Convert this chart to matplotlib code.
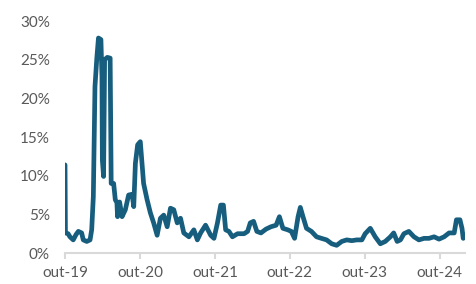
import pandas as pd
import matplotlib
matplotlib.use("Agg")
import matplotlib.pyplot as plt
from matplotlib.ticker import PercentFormatter

# Values (% per date)
dates = [
    "2019-10-01", "2019-10-03", "2019-10-16", "2019-10-25", "2019-11-10", "2019-11-24",
    "2019-12-05", "2019-12-21", "2019-12-29", "2020-01-15", "2020-01-31", "2020-02-08",
    "2020-02-16", "2020-02-24", "2020-03-04", "2020-03-12", "2020-03-24", "2020-03-29",
    "2020-03-31", "2020-04-06", "2020-04-11", "2020-04-24", "2020-05-08", "2020-05-13",
    "2020-05-25", "2020-06-02", "2020-06-10", "2020-06-13", "2020-06-23", "2020-07-05",
    "2020-07-21", "2020-08-06", "2020-08-23", "2020-08-31", "2020-09-08", "2020-09-19",
    "2020-10-02", "2020-10-18", "2020-11-04", "2020-11-20", "2020-12-06", "2020-12-23",
    "2021-01-08", "2021-01-24", "2021-02-10", "2021-02-26", "2021-03-14", "2021-03-31",
    "2021-04-16", "2021-05-02", "2021-05-27", "2021-06-20", "2021-07-07", "2021-07-23",
    "2021-08-16", "2021-09-10", "2021-09-26", "2021-10-13", "2021-10-29", "2021-11-11",
    "2021-11-22", "2021-12-08", "2021-12-25", "2022-01-19", "2022-02-20", "2022-03-09",
    "2022-03-22", "2022-04-07", "2022-04-23", "2022-05-13", "2022-06-07", "2022-07-01",
    "2022-07-26", "2022-08-11", "2022-08-28", "2022-09-21", "2022-10-08", "2022-10-24",
    "2022-11-10", "2022-11-21", "2022-12-04", "2022-12-21", "2023-01-14", "2023-02-08",
    "2023-03-04", "2023-03-29", "2023-04-23", "2023-05-17", "2023-06-11", "2023-07-05",
    "2023-07-30", "2023-08-23", "2023-09-17", "2023-10-03", "2023-10-28", "2023-11-21",
    "2023-12-16", "2024-01-09", "2024-02-03", "2024-02-19", "2024-03-07", "2024-03-23",
    "2024-04-09", "2024-05-03", "2024-05-28", "2024-06-21", "2024-07-16", "2024-08-09",
    "2024-09-03", "2024-09-27", "2024-10-22", "2024-11-15", "2024-12-10", "2024-12-21",
    "2025-01-07", "2025-01-17", "2025-01-23", "2025-01-28",
]
values = [
    11.4, 2.6, 2.5, 2.1, 1.7, 2.4,
    2.8, 2.6, 1.7, 1.5, 1.7, 3.0,
    7.3, 21.5, 25.2, 27.8, 27.6, 22.8,
    12.0, 9.9, 25.0, 25.3, 25.2, 9.0,
    9.0, 6.9, 6.5, 4.7, 6.6, 4.7,
    5.6, 7.5, 7.6, 6.0, 11.6, 14.0,
    14.4, 9.0, 6.9, 5.2, 3.9, 2.3,
    4.5, 4.9, 3.4, 5.8, 5.6, 3.9,
    4.5, 2.6, 2.1, 3.0, 1.7, 2.6,
    3.6, 2.3, 1.9, 3.9, 6.2, 6.2,
    3.0, 2.8, 2.1, 2.5, 2.5, 2.8,
    3.9, 4.1, 2.8, 2.6, 3.1, 3.4,
    3.6, 4.7, 3.2, 3.0, 2.8, 1.9,
    4.7, 5.9, 4.7, 3.2, 2.8, 2.1,
    1.9, 1.7, 1.2, 1.0, 1.5, 1.7,
    1.6, 1.7, 1.7, 2.5, 3.2, 2.1,
    1.2, 1.5, 2.1, 2.6, 1.5, 1.7,
    2.5, 2.8, 2.1, 1.7, 1.9, 1.9,
    2.1, 1.8, 2.1, 2.6, 2.6, 4.3,
    4.3, 3.2, 1.9, 2.3,
]
tick_dates = ["2019-10-01", "2020-10-01", "2021-10-01", "2022-10-01", "2023-10-01", "2024-10-01"]
tick_labels = ["out-19", "out-20", "out-21", "out-22", "out-23", "out-24"]

plt.rcParams['font.family'] = ['Lato', 'DejaVu Sans']

fig = plt.figure(figsize=(4.76, 2.84), dpi=100)
ax = fig.add_axes([0.1366, 0.109, 0.840, 0.817])

# the series line
ax.plot(pd.to_datetime(dates), values, color='#175E7E', linewidth=3.4,
        solid_joinstyle='round', solid_capstyle='round')

ax.set_xlim(pd.Timestamp("2019-10-01"), pd.Timestamp("2025-01-31"))
ax.set_ylim(0, 30)
ax.set_yticks([0, 5, 10, 15, 20, 25, 30])
ax.yaxis.set_major_formatter(PercentFormatter(decimals=0))
ax.set_xticks(pd.to_datetime(tick_dates))
ax.set_xticklabels(tick_labels)

for s in ['top', 'right', 'left']:
    ax.spines[s].set_visible(False)
ax.spines['bottom'].set_color('#D9D9D9')
ax.spines['bottom'].set_linewidth(1.5)

ax.tick_params(axis='y', length=0, pad=11, labelsize=11, labelcolor='#595959')
ax.tick_params(axis='x', length=4, width=1.5, color='#D9D9D9', pad=5,
               labelsize=11, labelcolor='#595959')

fig.savefig("out.png", dpi=100)
